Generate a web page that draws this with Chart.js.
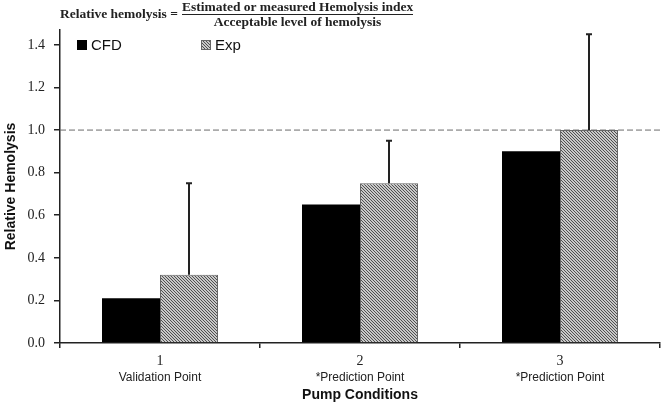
<!DOCTYPE html>
<html>
<head>
<meta charset="utf-8">
<script src="https://cdn.jsdelivr.net/npm/chart.js@4.4.1/dist/chart.umd.min.js"></script>
<style>
  body { margin: 0; background: #fff; }
  #wrap { position: relative; width: 666px; height: 405px; }
  #formula { position: absolute; left: 60px; top: 0; font-family: 'Liberation Serif', serif; font-weight: bold; font-size: 13.5px; color: #222; display: flex; align-items: center; height: 28px; }
  #formula .lhs { margin-right: 4px; }
  #formula .frac { display: inline-flex; flex-direction: column; align-items: center; line-height: 12px; }
  #formula .num { border-bottom: 1px solid #222; padding-bottom: 1px; }
  #formula .den { padding-top: 1px; }
</style>
</head>
<body>
<div id="wrap">
  <canvas id="chart" width="666" height="405"></canvas>
  <div id="formula">
    <span class="lhs">Relative hemolysis =</span>
    <span class="frac"><span class="num">Estimated or measured Hemolysis index</span><span class="den">Acceptable level of hemolysis</span></span>
  </div>
</div>
<script>
const categories = ['1', '2', '3'];
const conditionNotes = ['Validation Point', '*Prediction Point', '*Prediction Point'];
const cfdValues = [0.21, 0.65, 0.90];
const expValues = [0.32, 0.75, 1.00];
const expErrors = [0.43, 0.20, 0.45];
const yTicks = [0.0, 0.2, 0.4, 0.6, 0.8, 1.0, 1.2, 1.4];
const referenceLevel = 1.0;

function makeHatch() {
    // 3px period diagonal hatch, dark pixel where (x - y) % 3 == 0
    const tile = document.createElement('canvas');
    tile.width = 3;
    tile.height = 3;
    const c = tile.getContext('2d');
    const img = c.createImageData(3, 3);
    for (let y = 0; y < 3; y++) {
        for (let x = 0; x < 3; x++) {
            const v = ((x - y + 3) % 3 === 0) ? 80 : 200;
            const p = (y * 3 + x) * 4;
            img.data[p] = v;
            img.data[p + 1] = v;
            img.data[p + 2] = v;
            img.data[p + 3] = 255;
        }
    }
    c.putImageData(img, 0, 0);
    return c.createPattern(tile, 'repeat');
}

const ctx = document.getElementById('chart').getContext('2d');
const hatch = makeHatch();

const refLinePlugin = {
    id: 'refLine',
    beforeDatasetsDraw(chart) {
        const y = chart.scales.y.getPixelForValue(referenceLevel);
        const area = chart.chartArea;
        const c = chart.ctx;
        c.save();
        c.strokeStyle = '#6a6a6a';
        c.lineWidth = 1;
        c.setLineDash([6, 3]);
        c.beginPath();
        c.moveTo(area.left, y);
        c.lineTo(area.right, y);
        c.stroke();
        c.restore();
    }
};

const errorBarPlugin = {
    id: 'errorBars',
    afterDatasetsDraw(chart) {
        const meta = chart.getDatasetMeta(1);
        const yScale = chart.scales.y;
        const c = chart.ctx;
        c.save();
        c.strokeStyle = '#222';
        c.lineWidth = 2;
        meta.data.forEach((bar, i) => {
            const top = yScale.getPixelForValue(expValues[i] + expErrors[i]);
            const base = yScale.getPixelForValue(expValues[i]);
            c.beginPath();
            c.moveTo(bar.x, base);
            c.lineTo(bar.x, top);
            c.moveTo(bar.x - 3, top);
            c.lineTo(bar.x + 3, top);
            c.stroke();
        });
        c.restore();
    }
};

const legendPlugin = {
    id: 'innerLegend',
    afterDraw(chart) {
        const area = chart.chartArea;
        const c = chart.ctx;
        const items = chart.data.datasets.map((ds, i) => ({ label: ds.label, fill: ds.backgroundColor, x: area.left + (i === 0 ? 17 : 141) }));
        c.save();
        c.font = '15px "Liberation Sans", sans-serif';
        c.textBaseline = 'middle';
        items.forEach((it, i) => {
            c.fillStyle = it.fill;
            c.fillRect(it.x, area.top + 10, 10, 10);
            if (i > 0) {
                c.strokeStyle = '#666';
                c.lineWidth = 1;
                c.strokeRect(it.x + 0.5, area.top + 10.5, 9, 9);
            }
            c.fillStyle = '#111';
            c.fillText(it.label, it.x + 14, area.top + 16);
        });
        c.restore();
    }
};

new Chart(ctx, {
    type: 'bar',
    data: {
        labels: categories,
        datasets: [{
            label: 'CFD',
            data: cfdValues,
            backgroundColor: '#000000',
            borderWidth: 0
        }, {
            label: 'Exp',
            data: expValues,
            backgroundColor: hatch,
            borderColor: '#666666',
            borderWidth: 1
        }]
    },
    options: {
        responsive: false,
        animation: false,
        categoryPercentage: 0.58,
        barPercentage: 1.0,
        layout: { padding: { top: 30, right: 6, left: 0, bottom: 0 } },
        plugins: {
            legend: { display: false },
            tooltip: { enabled: false }
        },
        scales: {
            x: {
                weight: 0,
                grid: { offset: true, drawOnChartArea: false, tickLength: 5, color: '#222', lineWidth: 1.5 },
                border: { color: '#222', width: 1.5 },
                ticks: { font: { family: 'Liberation Serif', size: 14 }, color: '#222', padding: 5 },
                afterFit(scale) { scale.height = 27; }
            },
            x2: {
                type: 'category',
                position: 'bottom',
                weight: 1,
                labels: conditionNotes,
                grid: { display: false, drawTicks: false, tickLength: 0 },
                border: { display: false },
                ticks: { font: { family: 'Liberation Sans', size: 12 }, color: '#222', padding: 0 },
                title: {
                    display: true,
                    text: 'Pump Conditions',
                    font: { family: 'Liberation Sans', size: 14, weight: 'bold' },
                    color: '#111',
                    padding: { top: 0, bottom: 1 }
                },
                afterFit(scale) { scale.height = 35; }
            },
            y: {
                min: 0,
                max: 1.47,
                afterBuildTicks(scale) { scale.ticks = yTicks.map(v => ({ value: v })); },
                grid: { drawOnChartArea: false, tickLength: 6, color: '#222', lineWidth: 1.5 },
                border: { color: '#222', width: 1.5 },
                ticks: {
                    font: { family: 'Liberation Serif', size: 14 },
                    color: '#222',
                    padding: 9,
                    callback: v => v.toFixed(1)
                },
                title: {
                    display: true,
                    text: 'Relative Hemolysis',
                    font: { family: 'Liberation Sans', size: 14, weight: 'bold' },
                    color: '#111',
                    padding: { top: 3, bottom: 0 }
                },
                afterFit(scale) { scale.width = 60; }
            }
        }
    },
    plugins: [refLinePlugin, errorBarPlugin, legendPlugin]
});
</script>
</body>
</html>
